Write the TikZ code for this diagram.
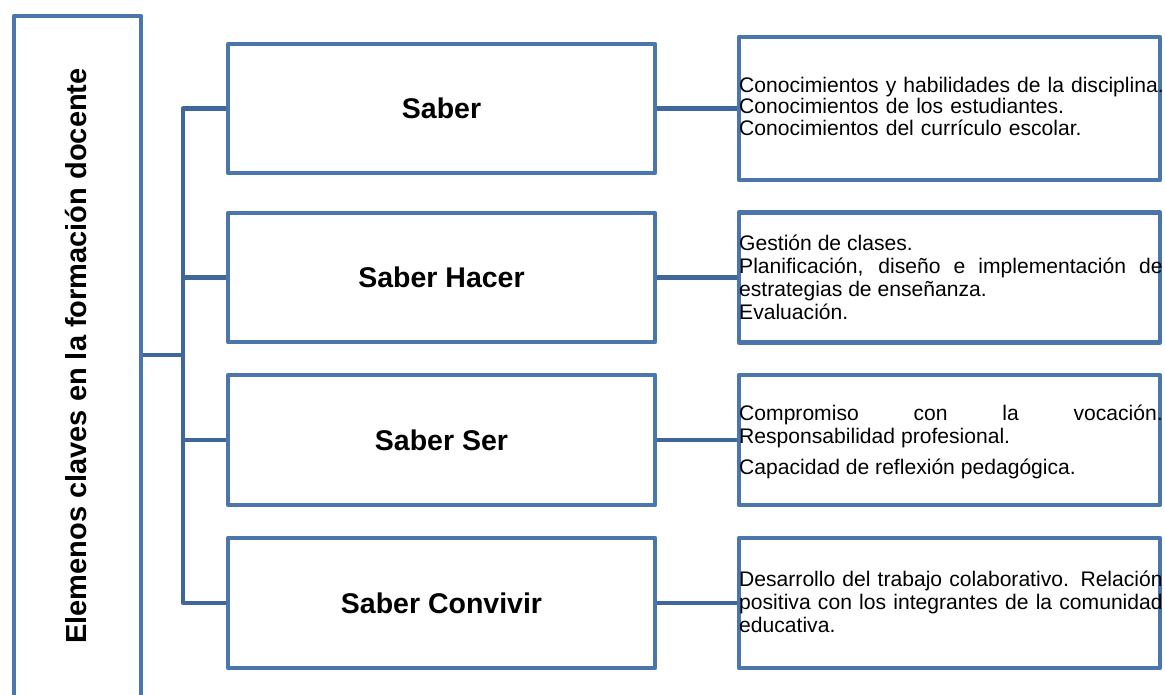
\documentclass[tikz,border=0pt]{standalone}
\usepackage{fontspec}
\setmainfont{Liberation Sans}
\definecolor{boxblue}{HTML}{4A76AB}
\definecolor{linkblue}{HTML}{3F679A}
\begin{document}
\hyphenpenalty=10000
\exhyphenpenalty=10000
\begin{tikzpicture}[x=1pt,y=-1pt,
  box/.style={draw=boxblue, line width=4.5pt, line join=round, fill=white, inner sep=0pt},
  link/.style={draw=linkblue, line width=4.5pt, line join=round},
  midbox/.style={box, minimum width=427pt, font=\bfseries\fontsize{28.5}{30}\selectfont},
  rightbox/.style={box, minimum width=421pt},
  txt/.style={inner sep=0pt, anchor=base west, text width=423.5pt, align=justify,
    font=\fontsize{21.1}{23}\selectfont}]
\useasboundingbox (0,0) rectangle (1165,694);
\clip (0,0) rectangle (1165,694);
\fill[white] (0,0) rectangle (1165,694);

% root box
\node[box, minimum width=127pt, minimum height=760pt] (root) at (77.5,396) {};
\node[rotate=90, anchor=base, inner sep=0pt, font=\bfseries\fontsize{29}{30}\selectfont] (rootlabel) at (86,356) {Elemenos claves en la formación docente};

% middle boxes
\node[midbox, minimum height=129pt] (m1) at (441.5,108.5) {Saber};
\node[midbox, minimum height=129pt] (m2) at (441.5,277.5) {Saber Hacer};
\node[midbox, minimum height=130pt] (m3) at (441.5,440) {Saber Ser};
\node[midbox, minimum height=130pt] (m4) at (441.5,603) {Saber Convivir};

% right boxes
\node[rightbox, minimum height=143pt] (r1) at (949.5,108.5) {};
\node[rightbox, minimum height=130pt] (r2) at (949.5,277.5) {};
\node[rightbox, minimum height=130pt] (r3) at (949.5,440) {};
\node[rightbox, minimum height=130pt] (r4) at (949.5,603) {};

% connectors
\coordinate (hub) at (183,355);
\draw[link] (root.east |- hub) -- (hub);
\draw[link] (m1.west) -| (hub) |- (m4.west);
\draw[link] (hub |- m2.west) -- (m2.west);
\draw[link] (hub |- m3.west) -- (m3.west);
\draw[link] (m1.east) -- (r1.west);
\draw[link] (m2.east) -- (r2.west);
\draw[link] (m3.east) -- (r3.west);
\draw[link] (m4.east) -- (r4.west);

% texts
\node[txt, text width=440pt, align=left, font=\fontsize{21.1}{21.5}\selectfont] (t1) at (739,92)
  {Conocimientos y habilidades de la disciplina.\par Conocimientos de los estudiantes.\par Conocimientos del currículo escolar.};
\node[txt] (t2) at (739,250)
  {Gestión de clases.\par Planificación, diseño e implementación de\linebreak estrategias de enseñanza.\par Evaluación.};
\node[txt] (t3) at (739,420)
  {Compromiso con la vocación.\linebreak Responsabilidad profesional.\par\vspace{8pt}Capacidad de reflexión pedagógica.};
\node[txt] (t4) at (739,586)
  {Desarrollo del trabajo colaborativo. Relación\linebreak positiva con los integrantes de la comunidad\linebreak educativa.};
\end{tikzpicture}
\end{document}
